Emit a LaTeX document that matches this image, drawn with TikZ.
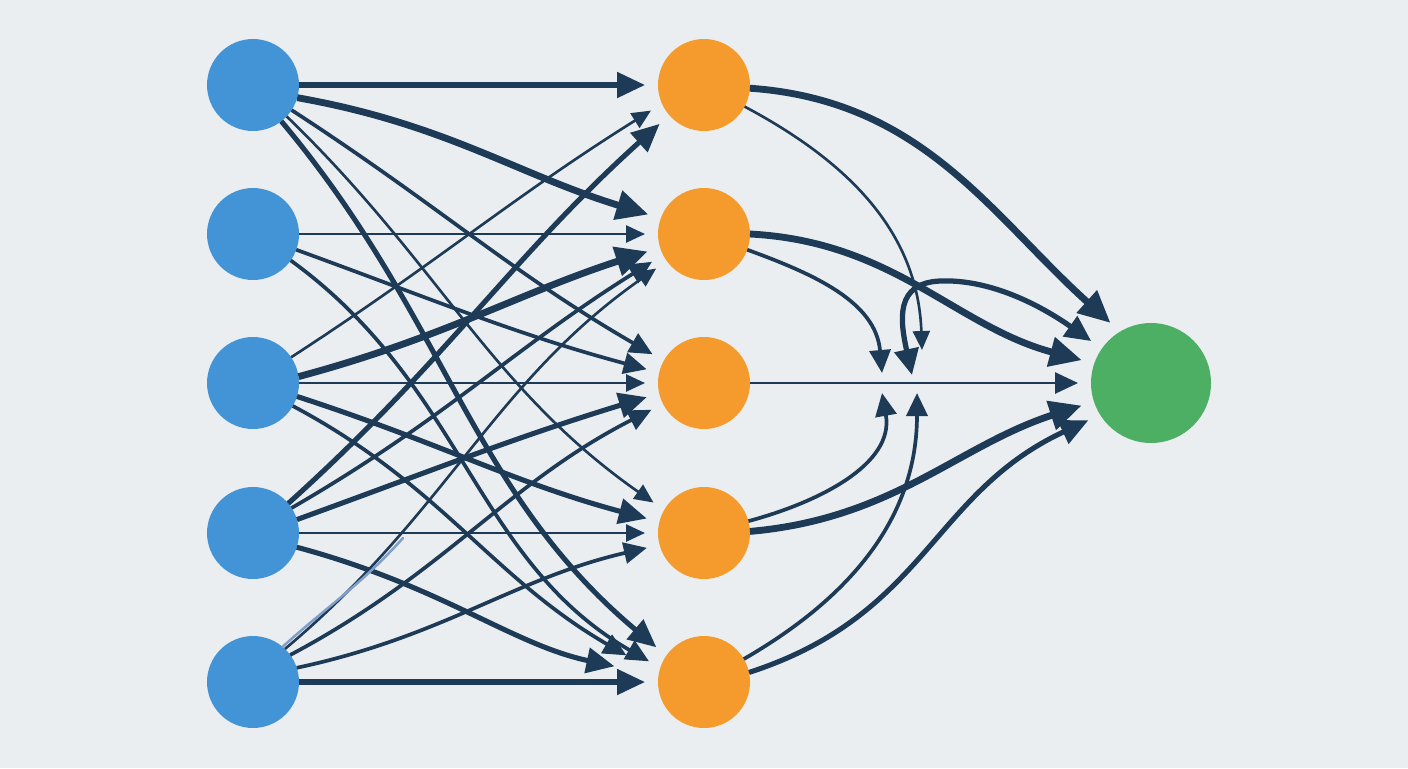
\documentclass[tikz,border=0pt]{standalone}
\usetikzlibrary{arrows.meta}
\definecolor{bgc}{HTML}{EBEEF0}
\definecolor{inblue}{HTML}{4294D6}
\definecolor{hidor}{HTML}{F59B2D}
\definecolor{outgr}{HTML}{4CAF64}
\definecolor{navy}{HTML}{1D3B56}
\definecolor{ghost}{HTML}{7F9FC8}
\tikzset{
  inn/.style={circle, fill=inblue, minimum size=1.84cm, inner sep=0pt, outer sep=0pt},
  hid/.style={circle, fill=hidor, minimum size=1.84cm, inner sep=0pt, outer sep=0pt},
  outn/.style={circle, fill=outgr, minimum size=2.4cm, inner sep=0pt, outer sep=0pt},
  lnk/.style={draw=navy, line cap=butt, shorten >=0.26cm},
  w1/.style={lnk, line width=1.5pt, -{Triangle[length=0.38cm,width=0.34cm]}},
  w2/.style={lnk, line width=2.1pt, -{Triangle[length=0.46cm,width=0.42cm]}},
  w3/.style={lnk, line width=2.9pt, -{Triangle[length=0.56cm,width=0.5cm]}},
  w4/.style={lnk, line width=3.9pt, -{Triangle[length=0.64cm,width=0.58cm]}},
  tomid/.style={shorten >=0pt},
}
\begin{document}
\begin{tikzpicture}[x=0.02cm,y=0.02cm]
\fill[bgc] (0,0) rectangle (1408,-768);
\useasboundingbox (0,0) rectangle (1408,-768);
% nodes
\node[inn] (I1) at (253,-85) {};
\node[inn] (I2) at (253,-234) {};
\node[inn] (I3) at (253,-383) {};
\node[inn] (I4) at (253,-533) {};
\node[inn] (I5) at (253,-682) {};
\node[hid] (H1) at (704,-85) {};
\node[hid] (H2) at (704,-234) {};
\node[hid] (H3) at (704,-383) {};
\node[hid] (H4) at (704,-533) {};
\node[hid] (H5) at (704,-682) {};
\node[outn] (O) at (1151,-383) {};
\coordinate (m1) at (882,-373);
\coordinate (m2) at (912,-375);
\coordinate (m3) at (922,-350);
\coordinate (m4) at (882,-393);
\coordinate (m5) at (917,-393);
\coordinate (gh) at (403,-538);
% input -> hidden
\draw[w3] (I1.east) -- (H1.west);
\draw[w4] (I1.-16) to[out=-10,in=163] (H2.160);
\draw[w2] (I1.-33) to[out=-33,in=150] (H3.151);
\draw[w1] (I1.-43) to[out=-44,in=145] (H4.150);
\draw[w3] (I1.-52) to[out=-50,in=140] (H5.145);

\draw[w1] (I2.east) -- (H2.west);
\draw[w2] (I2.-20) to[out=-20,in=165] (H3.167);
\draw[w2] (I2.-35) to[out=-36,in=150] (H5.162);

\draw[w1] (I3.34) to[out=33,in=212] (H1.204);
\draw[w4] (I3.8) to[out=15,in=198] (H2.197);
\draw[w1] (I3.east) -- (H3.west);
\draw[w3] (I3.-17) to[out=-18,in=165] (H4.166);
\draw[w2] (I3.-30) to[out=-28,in=150] ([shift={(-25,0)}]H5.154);

\draw[w3] (I4.40) to[out=42,in=222] (H1.221);
\draw[w2] (I4.33) to[out=30,in=212] (H2.207);
\draw[w3] (I4.17) to[out=20,in=197] (H3.193);
\draw[w1] (I4.east) -- (H4.west);
\draw[w3, shorten >=0.9cm] (I4.-18) to[out=-15,in=168] (H5.172);

\draw[w1] (I5.46) to[out=40,in=215] (H2.216);
\draw[w2] (I5.36) to[out=28,in=207] (H3.207);
\draw[w2] (I5.18) to[out=12,in=193] (H4.195);
\draw[w3] (I5.east) -- (H5.west);
% faint stray line
\draw[ghost, line width=1.4pt, line cap=round] (I5.50) to[out=42,in=228] (gh);
% hidden -> output / middle
\draw[w4] (H1.-4) to[out=-4,in=138] (O.121);
\draw[w1, tomid] (H1.-28) to[out=-28,in=92] (m3);
\draw[w4] (H2.0) to[out=-3,in=165] (O.161);
\draw[w2, tomid] (H2.-20) to[out=-20,in=95] (m1);
\draw[lnk, line width=3pt, {Triangle[length=0.52cm,width=0.48cm]}-{Triangle[length=0.52cm,width=0.48cm]}]
  (m2) .. controls (900,-320) and (895,-283) .. (940,-281)
       .. controls (990,-279) and (1040,-305) .. (O.145);
\draw[w1, -{Triangle[length=0.46cm,width=0.42cm]}] (H3.east) -- (O.west);
\draw[w2, tomid] (H4.15) to[out=15,in=-80] (m4);
\draw[w4] (H4.2) to[out=5,in=198] (O.198);
\draw[w2, tomid] (H5.30) to[out=30,in=-90] (m5);
\draw[w3] (H5.12) to[out=18,in=205,looseness=1.1] (O.212);
\end{tikzpicture}
\end{document}
